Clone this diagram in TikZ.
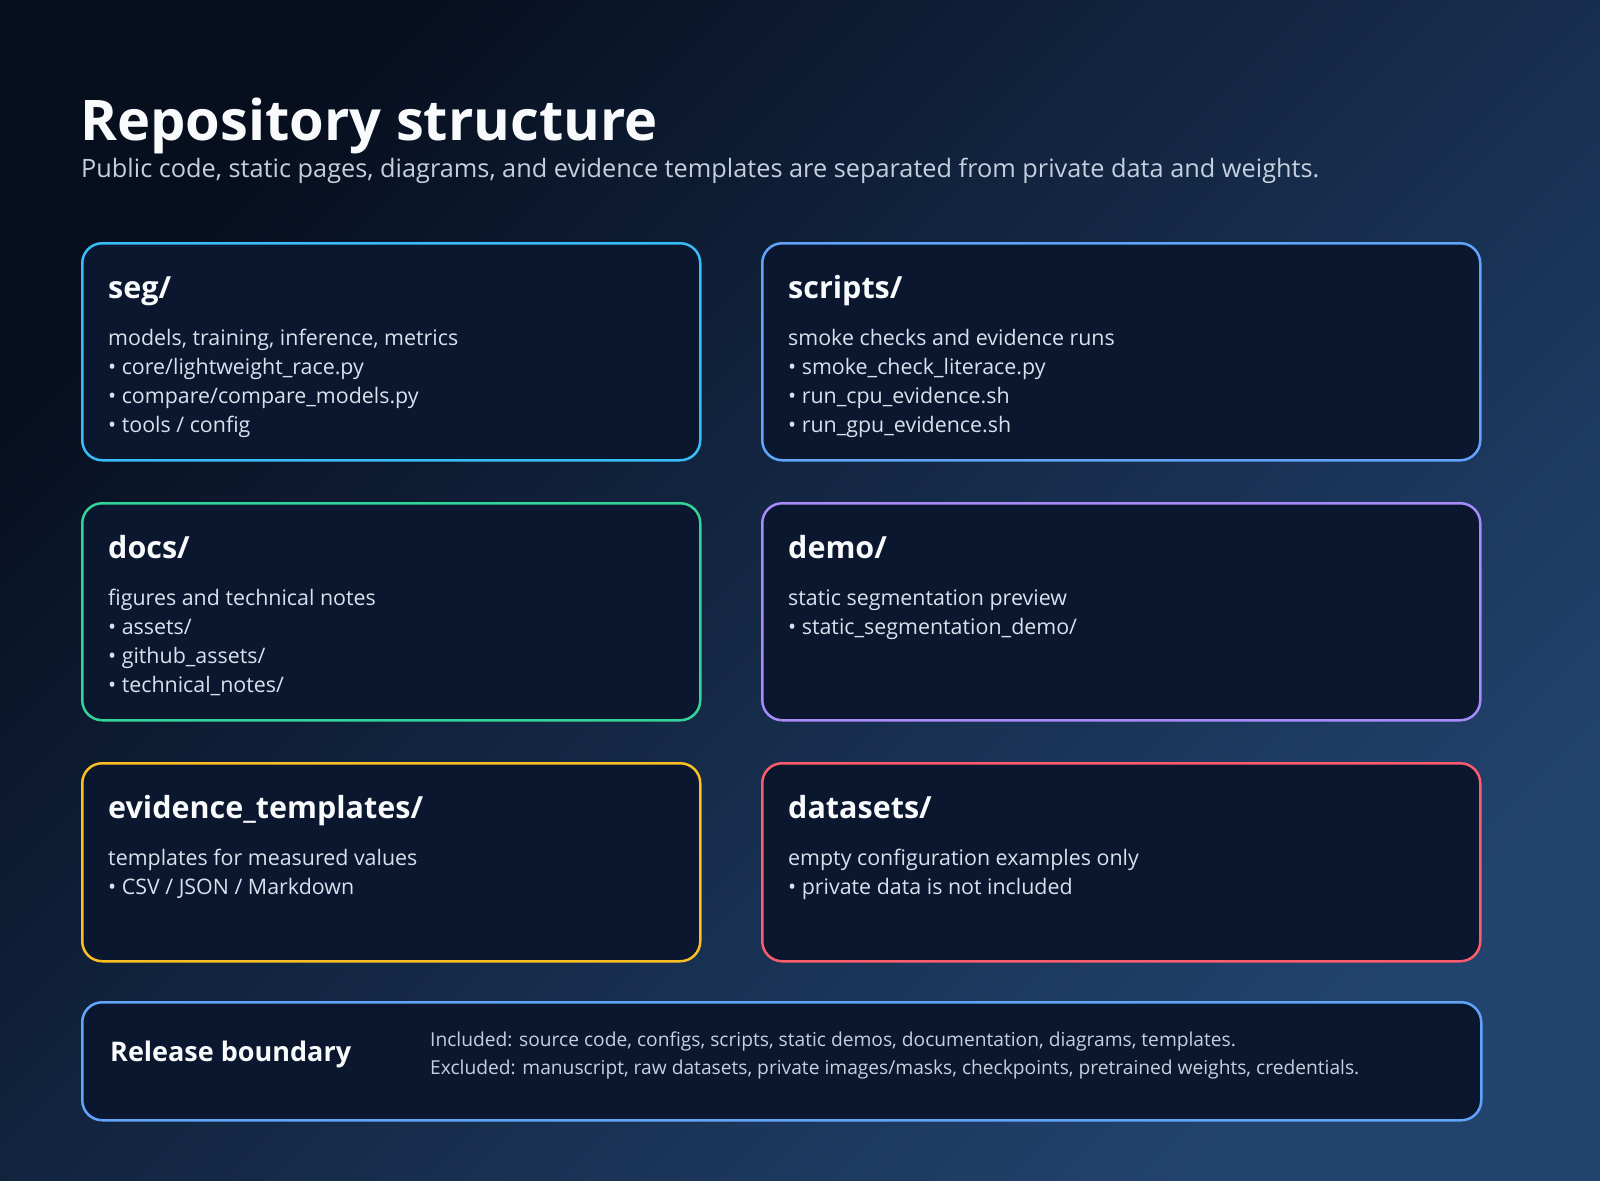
\documentclass[tikz,border=0pt]{standalone}
\usepackage{fontspec}
\setmainfont{Open Sans}
\usetikzlibrary{positioning}
\definecolor{bgdark}{HTML}{070F1F}
\definecolor{bglight}{HTML}{22436E}
\definecolor{boxfill}{HTML}{0A172E}
\definecolor{txwhite}{HTML}{F8FAFC}
\definecolor{txsub}{HTML}{C5D0DF}
\definecolor{txdesc}{HTML}{D8E1EE}
\definecolor{dcyan}{HTML}{38BDF8}
\definecolor{dblue}{HTML}{60A5FA}
\definecolor{dgreen}{HTML}{34D399}
\definecolor{dpurple}{HTML}{A78BFA}
\definecolor{damber}{HTML}{FBBF24}
\definecolor{dred}{HTML}{FB5D6C}

\begin{document}
\begin{tikzpicture}[
  x=1pt, y=-1pt,
  dirbox/.style={rectangle, rounded corners=20pt, fill=boxfill, line width=2.5pt, anchor=north west, inner sep=0pt},
  headtxt/.style={anchor=base west, inner sep=0pt, text=txwhite, font=\fontsize{30.5}{34}\selectfont\bfseries},
  desctxt/.style={anchor=base west, inner sep=0pt, align=left, text=txdesc, font=\fontsize{21.4}{29}\selectfont},
]

% Background
\useasboundingbox (0,0) rectangle (1600,1180);
\shade[top color=bgdark, bottom color=bglight, shading angle=45] (0,0) rectangle (1600,1180);

% Title
\node[anchor=base west, inner sep=0pt, text=txwhite, font=\fontsize{56}{60}\selectfont\bfseries] (title) at (80,141) {Repository structure};
\node[anchor=base west, inner sep=0pt, text=txsub, font=\fontsize{25.3}{28}\selectfont] (subtitle) at (81,177) {Public code, static pages, diagrams, and evidence templates are separated from private data and weights.};

% Left column (desc nodes sit on their last line)
\node[dirbox, draw=dcyan, minimum width=618pt, minimum height=217pt] (seg) at (81,242) {};
\node[headtxt] (seghead) at (108,298) {seg/};
\node[desctxt] (segdesc) at (108,432) {models, training, inference, metrics\\• core/lightweight\_race.py\\• compare/compare\_models.py\\• tools / config};

\node[dirbox, draw=dgreen, minimum width=618pt, minimum height=217pt] (docs) at (81,502) {};
\node[headtxt] (docshead) at (108,558) {docs/};
\node[desctxt] (docsdesc) at (108,692) {figures and technical notes\\• assets/\\• github\_assets/\\• technical\_notes/};

\node[dirbox, draw=damber, minimum width=618pt, minimum height=198pt] (evid) at (81,762) {};
\node[headtxt] (evidhead) at (108,818) {evidence\_templates/};
\node[desctxt] (eviddesc) at (108,894) {templates for measured values\\• CSV / JSON / Markdown};

% Right column
\node[dirbox, draw=dblue, minimum width=718pt, minimum height=217pt] (scripts) at (761,242) {};
\node[headtxt] (scriptshead) at (788,298) {scripts/};
\node[desctxt] (scriptsdesc) at (788,432) {smoke checks and evidence runs\\• smoke\_check\_literace.py\\• run\_cpu\_evidence.sh\\• run\_gpu\_evidence.sh};

\node[dirbox, draw=dpurple, minimum width=718pt, minimum height=217pt] (demo) at (761,502) {};
\node[headtxt] (demohead) at (788,558) {demo/};
\node[desctxt] (demodesc) at (788,634) {static segmentation preview\\• static\_segmentation\_demo/};

\node[dirbox, draw=dred, minimum width=718pt, minimum height=198pt] (data) at (761,762) {};
\node[headtxt] (datahead) at (788,818) {datasets/};
\node[desctxt] (datadesc) at (788,894) {empty configuration examples only\\• private data is not included};

% Release boundary
\node[dirbox, draw=dblue, minimum width=1399pt, minimum height=118pt] (release) at (81,1001) {};
\node[anchor=base west, inner sep=0pt, text=txwhite, font=\fontsize{27}{30}\selectfont\bfseries] (relhead) at (110,1061) {Release boundary};
\node[anchor=base west, inner sep=0pt, align=left, text=txsub, font=\fontsize{19.2}{27.5}\selectfont] (reltext) at (430,1074) {Included: source code, configs, scripts, static demos, documentation, diagrams, templates.\\Excluded: manuscript, raw datasets, private images/masks, checkpoints, pretrained weights, credentials.};

\end{tikzpicture}
\end{document}
